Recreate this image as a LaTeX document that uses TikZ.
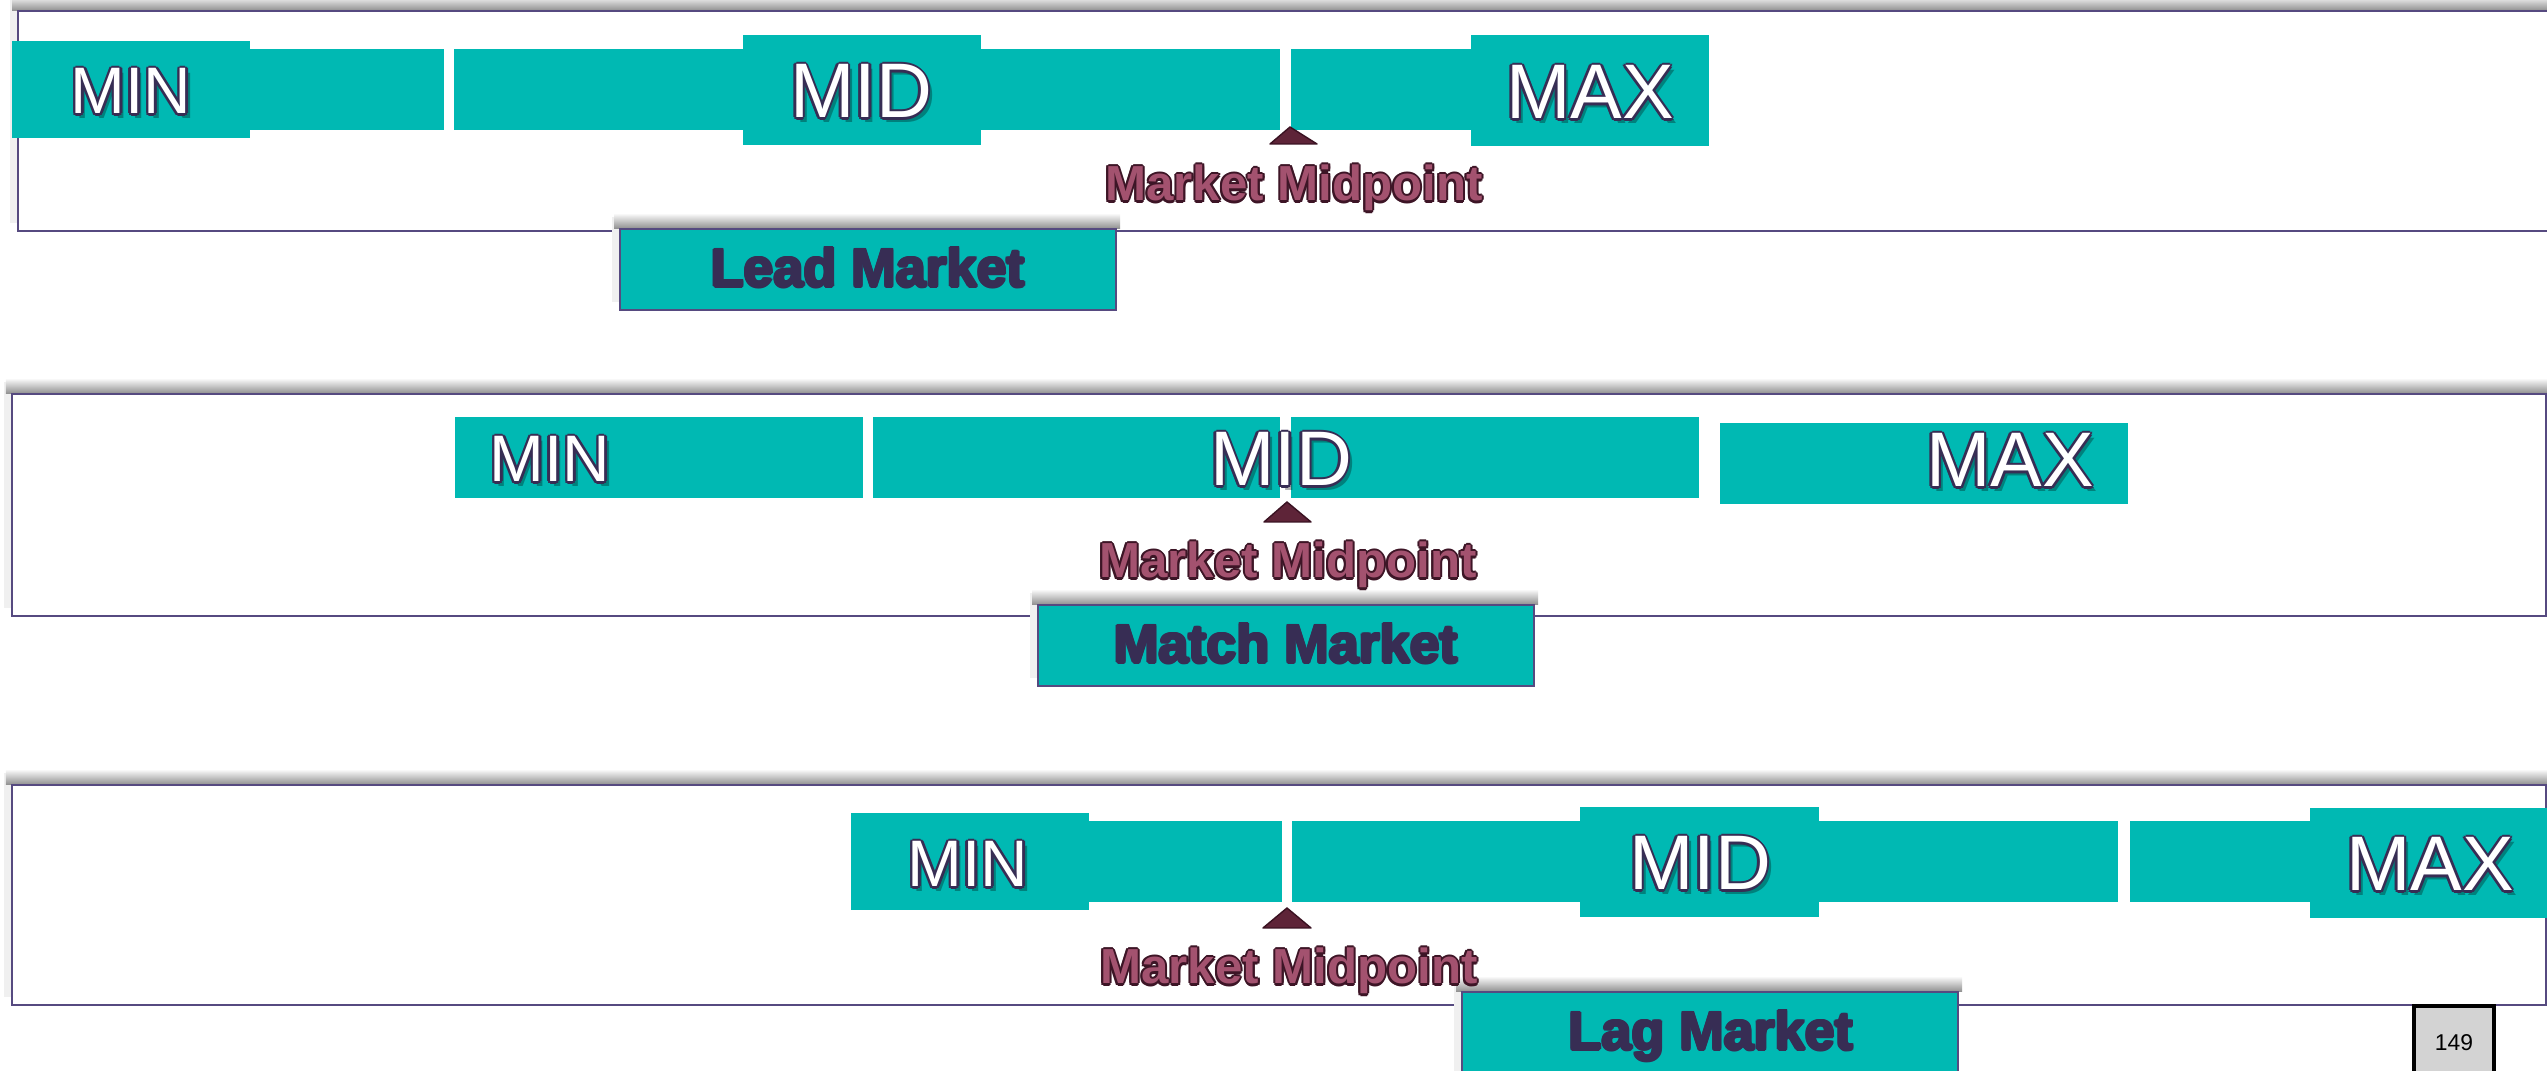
\documentclass[tikz,border=0pt]{standalone}
\usepackage{fontspec}
\newfontfamily\arial{Liberation Sans}
\usetikzlibrary{calc,fit}
\definecolor{tealbar}{HTML}{00B9B3}
\definecolor{framec}{HTML}{564A80}
\definecolor{darktext}{HTML}{372D54}
\definecolor{mmfill}{HTML}{A3526F}
\definecolor{mmline}{HTML}{3D1526}
\definecolor{trifill}{HTML}{5E2438}
\definecolor{triline}{HTML}{3A1222}
\definecolor{pagegray}{HTML}{D3D3D3}
\tikzset{
  bar/.style={fill=tealbar, draw=none, inner sep=0pt, outer sep=0pt},
  frame/.style={draw=framec, line width=0.8pt, fill=white, inner sep=0pt, outer sep=0pt},
  mktbox/.style={draw=framec, line width=0.8pt, fill=tealbar, inner sep=0pt, outer sep=0pt},
  bigtxt/.style={font=\arial\fontsize{22}{22}\selectfont, inner sep=0pt},
  mintxt/.style={font=\arial\fontsize{18.7}{18.7}\selectfont, inner sep=0pt},
  mmtxt/.style={font=\arial\bfseries\fontsize{14}{14}\selectfont, inner sep=0pt},
  mkttxt/.style={font=\arial\bfseries\fontsize{15.3}{15.3}\selectfont, inner sep=0pt},
  marker/.style={fill=trifill, draw=triline, line width=0.4pt, line join=round},
}
% outlined text: name, x, y, style, fill colour, outline colour, text, outline width
\newcommand{\otext}[8]{%
  \foreach \ang in {0,45,...,315}{%
    \node[#4, text=#6, anchor=base, xshift={#8*cos(\ang)}, yshift={#8*sin(\ang)}] at (#2,#3) {#7};}%
  \node[#4, text=#5, anchor=base] (#1) at (#2,#3) {#7};}
% outlined text with a soft drop shadow
\newcommand{\stext}[5]{% name, x, y, style, text
  \node[#4, text=black, text opacity=0.3, anchor=base, xshift=1.2pt, yshift=-1.2pt] at (#2,#3) {#5};
  \otext{#1}{#2}{#3}{#4}{white}{darktext}{#5}{0.75pt}}
% soft shadow above-left of a rectangle
\newcommand{\shad}[4]{% L T R B
  \fill[black!6] (#1-8,#2-12) rectangle (#1,#4-8);
  \shade[top color=white, bottom color=black!45] (#1-6,#2-16) rectangle (#3+4,#2);}
\begin{document}
\begin{tikzpicture}[x=0.01cm, y=-0.01cm]
\useasboundingbox (0,0) rectangle (2547,1071);
\clip (0,0) rectangle (2547,1071);
\fill[white] (0,0) rectangle (2547,1071);

% ---------- frames ----------
\shad{18}{11}{2600}{231}
\node[frame, fit={(18,11) (2600,231)}] (f1) {};
\shad{12}{394}{2546}{616}
\node[frame, fit={(12,394) (2546,616)}] (f2) {};
\shad{12}{785}{2546}{1005}
\node[frame, fit={(12,785) (2546,1005)}] (f3) {};

% ---------- panel 1 : lead ----------
\node[bar, fit={(250,49) (444,130)}] (t-sa) {};
\node[bar, fit={(454,49) (1280,130)}] (t-sb) {};
\node[bar, fit={(1291,49) (1471,130)}] (t-sc) {};
\node[bar, fit={(12,41) (250,138)}] (t-min) {};
\node[bar, fit={(743,35) (981,145)}] (t-mid) {};
\node[bar, fit={(1471,35) (1709,146)}] (t-max) {};
\fill[marker] (1290,127) -- (1317,144) -- (1270,144) -- cycle;

% ---------- panel 2 : match ----------
\node[bar, fit={(455,417) (863,498)}] (m-min) {};
\node[bar, fit={(873,417) (1280,498)}] (m-sa) {};
\node[bar, fit={(1291,417) (1699,498)}] (m-sb) {};
\node[bar, fit={(1720,423) (2128,504)}] (m-max) {};
\fill[marker] (1287,502) -- (1311,522) -- (1264,522) -- cycle;

% ---------- panel 3 : lag ----------
\node[bar, fit={(1089,821) (1282,902)}] (b-sa) {};
\node[bar, fit={(1292,821) (2118,902)}] (b-sb) {};
\node[bar, fit={(2130,821) (2310,902)}] (b-sc) {};
\node[bar, fit={(851,813) (1089,910)}] (b-min) {};
\node[bar, fit={(1580,807) (1819,917)}] (b-mid) {};
\node[bar, fit={(2310,808) (2600,918)}] (b-max) {};
\fill[marker] (1287,908) -- (1311,928) -- (1263,928) -- cycle;

% ---------- market boxes ----------
\shad{620}{229}{1116}{310}
\node[mktbox, fit={(620,229) (1116,310)}] (lead) {};
\shad{1038}{605}{1534}{686}
\node[mktbox, fit={(1038,605) (1534,686)}] (match) {};
\shad{1462}{992}{1958}{1090}
\node[mktbox, fit={(1462,992) (1958,1090)}] (lag) {};

% ---------- page number ----------
\node[fill=pagegray, draw=black, line width=0.9pt, inner sep=0pt, fit={(2414,1006) (2494,1090)}] (pg) {};
\node[font=\arial\fontsize{6.5}{6.5}\selectfont, anchor=base, inner sep=0pt] (pgnum) at (2454,1051) {149};

% ---------- labels ----------
\stext{t-minl}{131}{114}{mintxt}{MIN}
\stext{t-midl}{861}{118}{bigtxt}{MID}
\stext{t-maxl}{1590}{119}{bigtxt}{MAX}
\stext{m-minl}{550}{482}{mintxt}{MIN}
\stext{m-midl}{1281}{486}{bigtxt}{MID}
\stext{m-maxl}{2010}{487}{bigtxt}{MAX}
\stext{b-minl}{968}{887}{mintxt}{MIN}
\stext{b-midl}{1700}{890}{bigtxt}{MID}
\stext{b-maxl}{2430}{891}{bigtxt}{MAX}

\otext{t-mm}{1294}{201}{mmtxt}{mmfill}{mmline}{Market Midpoint}{0.6pt}
\otext{m-mm}{1288}{578}{mmtxt}{mmfill}{mmline}{Market Midpoint}{0.6pt}
\otext{b-mm}{1289}{984}{mmtxt}{mmfill}{mmline}{Market Midpoint}{0.6pt}

\otext{leadl}{868}{287}{mkttxt}{darktext}{darktext}{Lead Market}{0.4pt}
\otext{matchl}{1286}{663}{mkttxt}{darktext}{darktext}{Match Market}{0.4pt}
\otext{lagl}{1711}{1050}{mkttxt}{darktext}{darktext}{Lag Market}{0.4pt}
\end{tikzpicture}
\end{document}
